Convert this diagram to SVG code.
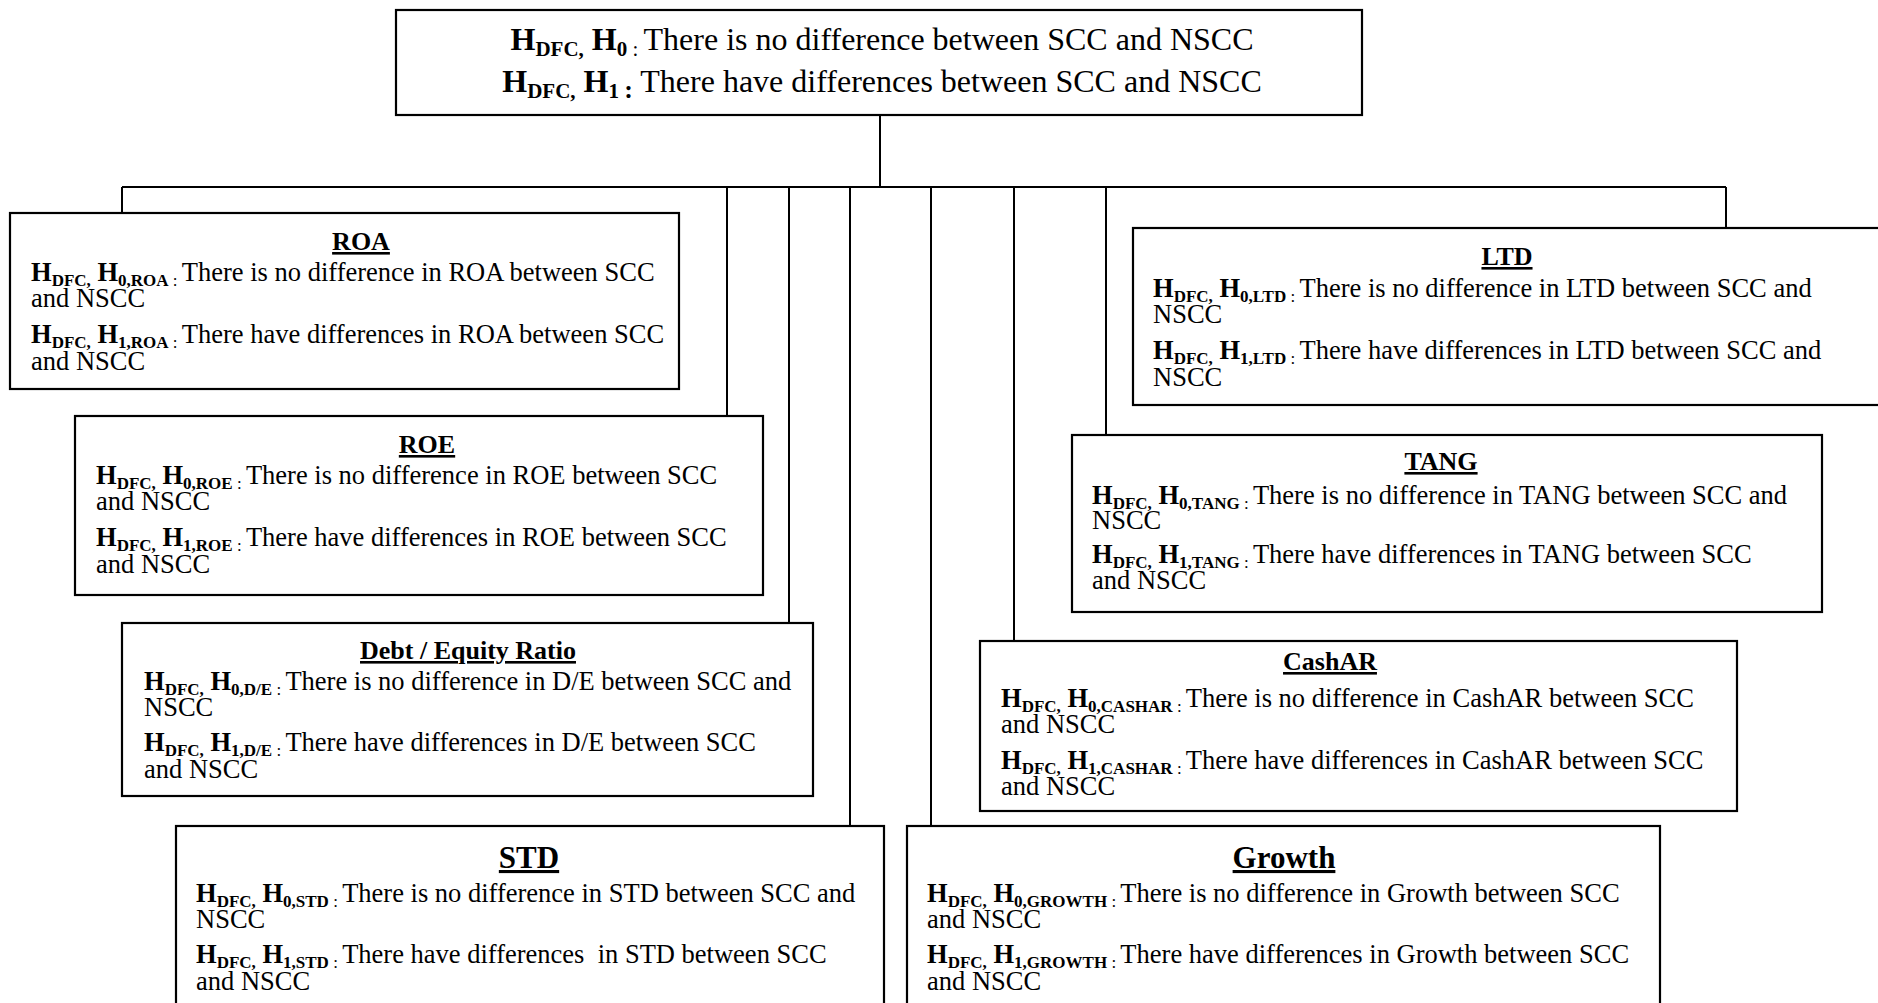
<svg xmlns="http://www.w3.org/2000/svg" width="1878" height="1003" viewBox="0 0 1878 1003">
<style>
text{font-family:"Liberation Serif","Times New Roman",serif;fill:#000;font-size:26.5px}
.box{fill:#fff;stroke:#000;stroke-width:2.2}
.ln{stroke:#000;stroke-width:2;fill:none}
.b{font-weight:bold}
.s{font-size:17px}
.ttl{font-weight:bold;text-decoration:underline;text-anchor:middle;font-size:26px}
.ttl2{font-weight:bold;text-decoration:underline;text-anchor:middle;font-size:31px}
</style>
<rect width="1878" height="1003" fill="#fff"/>
<g id="connectors">
<path class="ln" d="M880 115V187M122 187H1726M122 187V213M727 187V416M789 187V623M850 187V826M931 187V826M1014 187V641M1106 187V435M1726 187V228"/>
</g>
<g id="root">
<rect class="box" x="396" y="10" width="966" height="105"/>
<text x="882" y="50" style="font-size:32px" text-anchor="middle" xml:space="preserve"><tspan class="b">H</tspan><tspan class="b" style="font-size:21px" dy="6">DFC,</tspan><tspan class="b" dy="-6"> H</tspan><tspan class="b" style="font-size:21px" dy="6">0</tspan><tspan style="font-size:21px"> : </tspan><tspan dy="-6">There is no difference between SCC and NSCC</tspan></text>
<text x="882" y="92" style="font-size:32px" text-anchor="middle" xml:space="preserve"><tspan class="b">H</tspan><tspan class="b" style="font-size:21px" dy="6">DFC,</tspan><tspan class="b" dy="-6"> H</tspan><tspan class="b" style="font-size:21px" dy="6">1 </tspan><tspan class="b" style="font-size:26px">:</tspan><tspan dy="-6"> There have differences between SCC and NSCC</tspan></text>
</g>
<g id="roa">
<rect class="box" x="10" y="213" width="669" height="176"/>
<text class="ttl" x="361" y="250">ROA</text>
<text x="31" y="281" xml:space="preserve"><tspan class="b">H</tspan><tspan class="b s" dy="5">DFC,</tspan><tspan class="b" dy="-5"> H</tspan><tspan class="b s" dy="5">0,ROA</tspan><tspan class="s"> : </tspan><tspan dy="-5">There is no difference in ROA between SCC</tspan></text>
<text x="31" y="307">and NSCC</text>
<text x="31" y="343" xml:space="preserve"><tspan class="b">H</tspan><tspan class="b s" dy="5">DFC,</tspan><tspan class="b" dy="-5"> H</tspan><tspan class="b s" dy="5">1,ROA</tspan><tspan class="s"> : </tspan><tspan dy="-5">There have differences in ROA between SCC</tspan></text>
<text x="31" y="370">and NSCC</text>
</g>
<g id="roe">
<rect class="box" x="75" y="416" width="688" height="179"/>
<text class="ttl" x="427" y="453">ROE</text>
<text x="96" y="484" xml:space="preserve"><tspan class="b">H</tspan><tspan class="b s" dy="5">DFC,</tspan><tspan class="b" dy="-5"> H</tspan><tspan class="b s" dy="5">0,ROE</tspan><tspan class="s"> : </tspan><tspan dy="-5">There is no difference in ROE between SCC</tspan></text>
<text x="96" y="510">and NSCC</text>
<text x="96" y="546" xml:space="preserve"><tspan class="b">H</tspan><tspan class="b s" dy="5">DFC,</tspan><tspan class="b" dy="-5"> H</tspan><tspan class="b s" dy="5">1,ROE</tspan><tspan class="s"> : </tspan><tspan dy="-5">There have differences in ROE between SCC</tspan></text>
<text x="96" y="573">and NSCC</text>
</g>
<g id="de">
<rect class="box" x="122" y="623" width="691" height="173"/>
<text class="ttl" x="468" y="659">Debt / Equity Ratio</text>
<text x="144" y="690" xml:space="preserve"><tspan class="b">H</tspan><tspan class="b s" dy="5">DFC,</tspan><tspan class="b" dy="-5"> H</tspan><tspan class="b s" dy="5">0,D/E</tspan><tspan class="s"> : </tspan><tspan dy="-5">There is no difference in D/E between SCC and</tspan></text>
<text x="144" y="716">NSCC</text>
<text x="144" y="751" xml:space="preserve"><tspan class="b">H</tspan><tspan class="b s" dy="5">DFC,</tspan><tspan class="b" dy="-5"> H</tspan><tspan class="b s" dy="5">1,D/E</tspan><tspan class="s"> : </tspan><tspan dy="-5">There have differences in D/E between SCC</tspan></text>
<text x="144" y="778">and NSCC</text>
</g>
<g id="std">
<rect class="box" x="176" y="826" width="708" height="190"/>
<text class="ttl2" x="529" y="868">STD</text>
<text x="196" y="902" xml:space="preserve"><tspan class="b">H</tspan><tspan class="b s" dy="5">DFC,</tspan><tspan class="b" dy="-5"> H</tspan><tspan class="b s" dy="5">0,STD</tspan><tspan class="s"> : </tspan><tspan dy="-5">There is no difference in STD between SCC and</tspan></text>
<text x="196" y="928">NSCC</text>
<text x="196" y="963" xml:space="preserve"><tspan class="b">H</tspan><tspan class="b s" dy="5">DFC,</tspan><tspan class="b" dy="-5"> H</tspan><tspan class="b s" dy="5">1,STD</tspan><tspan class="s"> : </tspan><tspan dy="-5">There have differences  in STD between SCC</tspan></text>
<text x="196" y="990">and NSCC</text>
</g>
<g id="growth">
<rect class="box" x="907" y="826" width="753" height="190"/>
<text class="ttl2" x="1284" y="868">Growth</text>
<text x="927" y="902" xml:space="preserve"><tspan class="b">H</tspan><tspan class="b s" dy="5">DFC,</tspan><tspan class="b" dy="-5"> H</tspan><tspan class="b s" dy="5">0,GROWTH</tspan><tspan class="s"> : </tspan><tspan dy="-5">There is no difference in Growth between SCC</tspan></text>
<text x="927" y="928">and NSCC</text>
<text x="927" y="963" xml:space="preserve"><tspan class="b">H</tspan><tspan class="b s" dy="5">DFC,</tspan><tspan class="b" dy="-5"> H</tspan><tspan class="b s" dy="5">1,GROWTH</tspan><tspan class="s"> : </tspan><tspan dy="-5">There have differences in Growth between SCC</tspan></text>
<text x="927" y="990">and NSCC</text>
</g>
<g id="cashar">
<rect class="box" x="980" y="641" width="757" height="170"/>
<text class="ttl" x="1330" y="670">CashAR</text>
<text x="1001" y="707" xml:space="preserve"><tspan class="b">H</tspan><tspan class="b s" dy="5">DFC,</tspan><tspan class="b" dy="-5"> H</tspan><tspan class="b s" dy="5">0,CASHAR</tspan><tspan class="s"> : </tspan><tspan dy="-5">There is no difference in CashAR between SCC</tspan></text>
<text x="1001" y="733">and NSCC</text>
<text x="1001" y="769" xml:space="preserve"><tspan class="b">H</tspan><tspan class="b s" dy="5">DFC,</tspan><tspan class="b" dy="-5"> H</tspan><tspan class="b s" dy="5">1,CASHAR</tspan><tspan class="s"> : </tspan><tspan dy="-5">There have differences in CashAR between SCC</tspan></text>
<text x="1001" y="795">and NSCC</text>
</g>
<g id="tang">
<rect class="box" x="1072" y="435" width="750" height="177"/>
<text class="ttl" x="1441" y="470">TANG</text>
<text x="1092" y="504" xml:space="preserve"><tspan class="b">H</tspan><tspan class="b s" dy="5">DFC,</tspan><tspan class="b" dy="-5"> H</tspan><tspan class="b s" dy="5">0,TANG</tspan><tspan class="s"> : </tspan><tspan dy="-5">There is no difference in TANG between SCC and</tspan></text>
<text x="1092" y="529">NSCC</text>
<text x="1092" y="563" xml:space="preserve"><tspan class="b">H</tspan><tspan class="b s" dy="5">DFC,</tspan><tspan class="b" dy="-5"> H</tspan><tspan class="b s" dy="5">1,TANG</tspan><tspan class="s"> : </tspan><tspan dy="-5">There have differences in TANG between SCC</tspan></text>
<text x="1092" y="589">and NSCC</text>
</g>
<g id="ltd">
<rect class="box" x="1133" y="228" width="760" height="177"/>
<text class="ttl" x="1507" y="265">LTD</text>
<text x="1153" y="297" xml:space="preserve"><tspan class="b">H</tspan><tspan class="b s" dy="5">DFC,</tspan><tspan class="b" dy="-5"> H</tspan><tspan class="b s" dy="5">0,LTD</tspan><tspan class="s"> : </tspan><tspan dy="-5">There is no difference in LTD between SCC and</tspan></text>
<text x="1153" y="323">NSCC</text>
<text x="1153" y="359" xml:space="preserve"><tspan class="b">H</tspan><tspan class="b s" dy="5">DFC,</tspan><tspan class="b" dy="-5"> H</tspan><tspan class="b s" dy="5">1,LTD</tspan><tspan class="s"> : </tspan><tspan dy="-5">There have differences in LTD between SCC and</tspan></text>
<text x="1153" y="386">NSCC</text>
</g>
</svg>
